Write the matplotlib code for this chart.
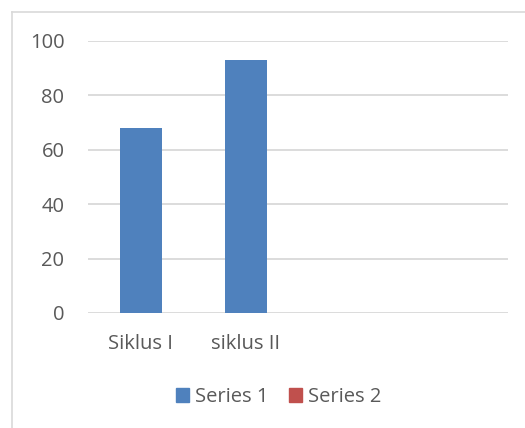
import numpy as np
import matplotlib.pyplot as plt
from matplotlib.patches import Patch

categories = ["Siklus I", "siklus II", "", ""]
series1 = [68, 93, np.nan, np.nan]
series_names = ["Series 1", "Series 2"]
yticks = [0, 20, 40, 60, 80, 100]

blue = "#4f81bd"
red = "#c0504d"
txt = "#595959"

plt.rcParams['font.family'] = ['Open Sans', 'DejaVu Sans']

fig = plt.figure(figsize=(5.25, 4.28), dpi=100)
ax = fig.add_axes([88 / 525, 1 - 313 / 428, 420 / 525, (313 - 41) / 428])

x = np.arange(len(categories))
ax.bar(x, series1, width=0.4, color=blue, zorder=3)

ax.set_xlim(-0.5, len(categories) - 0.5)
ax.set_ylim(0, 100)
ax.set_yticks(yticks)
ax.set_xticks(x[:2])
ax.set_xticklabels(categories[:2])
ax.grid(axis="y", color="#d9d9d9", linewidth=1.3, zorder=0)
for s in ax.spines.values():
    s.set_visible(False)
ax.tick_params(length=0, colors=txt, labelsize=14.5)
ax.tick_params(axis="y", pad=17)
ax.tick_params(axis="x", pad=15)
for lab in ax.get_yticklabels():
    lab.set_horizontalalignment("right")

handles = [Patch(color=blue), Patch(color=red)]
fig.legend(handles, series_names, loc="center", bbox_to_anchor=(279 / 525, 1 - 397 / 428),
           ncol=2, frameon=False, fontsize=14.5, labelcolor=txt,
           handlelength=0.65, handleheight=0.65, handletextpad=0.3, columnspacing=1.0)

# chart border (only the left and top edges are in frame)
fig.add_artist(plt.Line2D([12 / 525, 12 / 525], [0, 1 - 12 / 428], color="#d9d9d9", lw=1.2))
fig.add_artist(plt.Line2D([12 / 525, 1], [1 - 12 / 428, 1 - 12 / 428], color="#d9d9d9", lw=1.2))

fig.savefig("out.png", dpi=100)
